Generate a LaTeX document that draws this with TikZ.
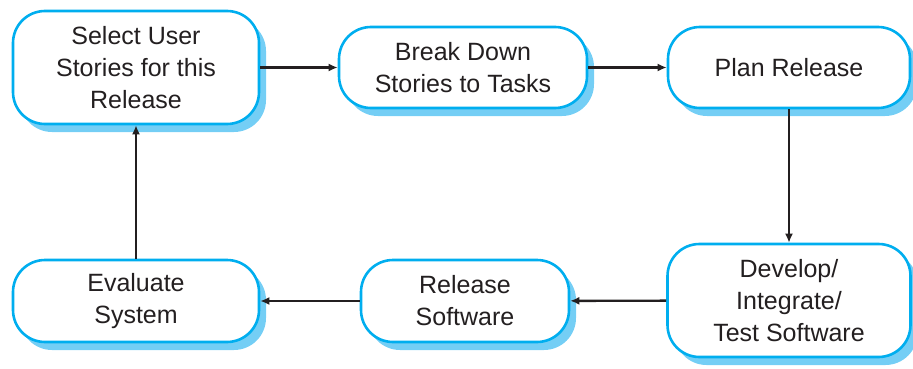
\documentclass[tikz,border=0pt]{standalone}
\usepackage{fontspec}
\setmainfont{Liberation Sans}
\usetikzlibrary{arrows.meta,shadows}
\definecolor{boxblue}{HTML}{00AEEF}
\definecolor{shadowblue}{HTML}{74CEF5}
\definecolor{txt}{HTML}{231F20}
\begin{document}
\begin{tikzpicture}[x=1pt,y=-1pt,
  proc/.style={draw=boxblue, line width=2.6pt, fill=white, rounded corners=32pt,
    align=center, text=txt, font=\fontsize{25}{32}\selectfont, inner sep=0pt,
    drop shadow={shadow xshift=7pt, shadow yshift=-8pt, fill=shadowblue, opacity=1}},
  conn/.style={draw=txt, line width=2.4pt, -{Latex[length=9pt,width=8pt]}}]
\useasboundingbox (0,0) rectangle (913,369);
\node[proc, minimum width=246pt, minimum height=113pt] (n1) at (136,67.5) {Select User\\Stories for this\\Release};
\node[proc, minimum width=248pt, minimum height=81pt] (n2) at (463,67.5) {Break Down\\Stories to Tasks};
\node[proc, minimum width=242pt, minimum height=81pt] (n3) at (789,67.5) {Plan Release};
\node[proc, minimum width=243pt, minimum height=113pt] (n4) at (789,300.5) {Develop/\\Integrate/\\Test Software};
\node[proc, minimum width=208pt, minimum height=82pt] (n5) at (465,301) {Release\\Software};
\node[proc, minimum width=246pt, minimum height=82pt] (n6) at (136,301) {Evaluate\\System};
\draw[conn] (n1) -- (n2);
\draw[conn] (n2) -- (n3);
\draw[conn] (n3) -- (n4);
\draw[conn] (n4) -- (n5);
\draw[conn] (n5) -- (n6);
\draw[conn] (n6) -- (n1);
\end{tikzpicture}
\end{document}
